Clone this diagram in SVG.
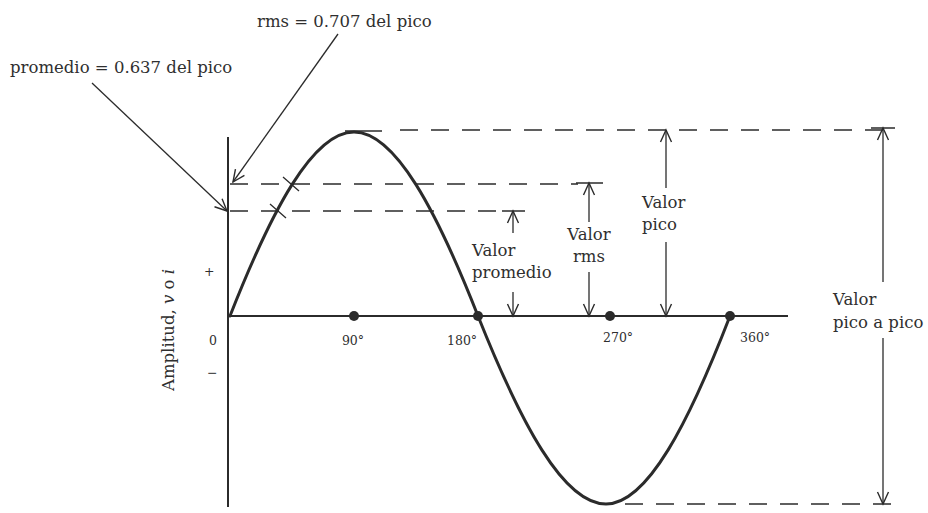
<svg xmlns="http://www.w3.org/2000/svg" width="928" height="513" viewBox="0 0 928 513">
  <style>
    .ink { stroke: #2b2b2b; fill: none; }
    .axis { stroke-width: 2; }
    .curve { stroke-width: 3; stroke-linejoin: round; stroke-linecap: round; }
    .dash { stroke-width: 1.5; stroke-dasharray: 18 13; }
    .thin { stroke-width: 1.3; }
    .lbl { font-family: "DejaVu Serif", "Liberation Serif", serif; font-size: 16.5px; fill: #2f2f2f; }
    .deg { font-family: "DejaVu Serif", "Liberation Serif", serif; font-size: 12.5px; fill: #2f2f2f; }
    .dot { fill: #2b2b2b; }
  </style>
  <defs>
    <marker id="ah" viewBox="-14 -8 16 16" refX="0" refY="0" markerWidth="16" markerHeight="16" markerUnits="userSpaceOnUse" orient="auto">
      <path d="M-12,-5.5 L0,0 L-12,5.5" fill="none" stroke="#2b2b2b" stroke-width="1.4"/>
    </marker>
  </defs>
  <rect width="928" height="513" fill="#ffffff"/>

  <g id="axes">
    <path class="ink axis" d="M228,137 V507"/>
    <path class="ink axis" d="M228,316 H788"/>
    <text class="deg" x="209" y="345">0</text>
    <text class="deg" x="204" y="276" font-size="14">+</text>
    <text class="deg" x="207" y="377">−</text>
    <text class="lbl" font-size="14" text-anchor="middle" transform="translate(174,330) rotate(-90)">Amplitud, <tspan font-style="italic">v</tspan> o <tspan font-style="italic">i</tspan></text>
  </g>

  <g id="levels">
    <path class="ink dash" d="M400,130 H895"/>
    <path class="ink" stroke-width="1.5" d="M345,131 H382"/>
    <path class="ink dash" d="M230,184 H578"/>
    <path class="ink dash" d="M230,211 H502"/>
    <path class="ink dash" d="M625,504 H903"/>
  </g>

  <g id="wave">
    <path class="ink curve" d="M230,316 C271.3,211 312.7,132 354,132 C395.3,132 436.7,211 478,316 C520.7,423 563.3,504 606,504 C647.3,504 688.7,423 730,316"/>
    <circle class="dot" cx="354" cy="316" r="5"/>
    <circle class="dot" cx="478" cy="316" r="5"/>
    <circle class="dot" cx="610" cy="316" r="5"/>
    <circle class="dot" cx="730" cy="316" r="5"/>
    <path class="ink thin" d="M283,177 L299,191 M270,204 L286,218"/>
  </g>

  <g id="degrees">
    <text class="deg" x="353" y="345" text-anchor="middle">90°</text>
    <text class="deg" x="447" y="345">180°</text>
    <text class="deg" x="603" y="342">270°</text>
    <text class="deg" x="740" y="342">360°</text>
  </g>

  <g id="note-rms">
    <text class="lbl" x="257" y="27">rms = 0.707 del pico</text>
  </g>
  <g id="note-promedio">
    <text class="lbl" x="10" y="73">promedio = 0.637 del pico</text>
  </g>

  <g id="valor-promedio">
    <text class="lbl" x="472" y="256">Valor</text>
    <text class="lbl" x="472" y="278">promedio</text>
  </g>
  <g id="valor-rms">
    <text class="lbl" x="589" y="240" text-anchor="middle">Valor</text>
    <text class="lbl" x="589" y="262" text-anchor="middle">rms</text>
  </g>
  <g id="valor-pico">
    <text class="lbl" x="642" y="208">Valor</text>
    <text class="lbl" x="642" y="230">pico</text>
  </g>
  <g id="valor-pico-a-pico">
    <text class="lbl" x="833" y="305">Valor</text>
    <text class="lbl" x="833" y="328">pico a pico</text>
  </g>

  <g id="connectors">
    <path class="ink thin" d="M338,34 L233,182" marker-end="url(#ah)"/>
    <path class="ink thin" d="M92,83 L227,211" marker-end="url(#ah)"/>
    <path class="ink thin" d="M502,211 H525 M576,183 H603 M871,128 H895"/>
    <path class="ink thin" d="M513,233 V211" marker-end="url(#ah)"/>
    <path class="ink thin" d="M513,292 V316" marker-end="url(#ah)"/>
    <path class="ink thin" d="M589,222 V183" marker-end="url(#ah)"/>
    <path class="ink thin" d="M589,272 V316" marker-end="url(#ah)"/>
    <path class="ink thin" d="M666,188 V130" marker-end="url(#ah)"/>
    <path class="ink thin" d="M666,242 V316" marker-end="url(#ah)"/>
    <path class="ink thin" d="M883,282 V128" marker-end="url(#ah)"/>
    <path class="ink thin" d="M883,338 V504" marker-end="url(#ah)"/>
  </g>
</svg>
